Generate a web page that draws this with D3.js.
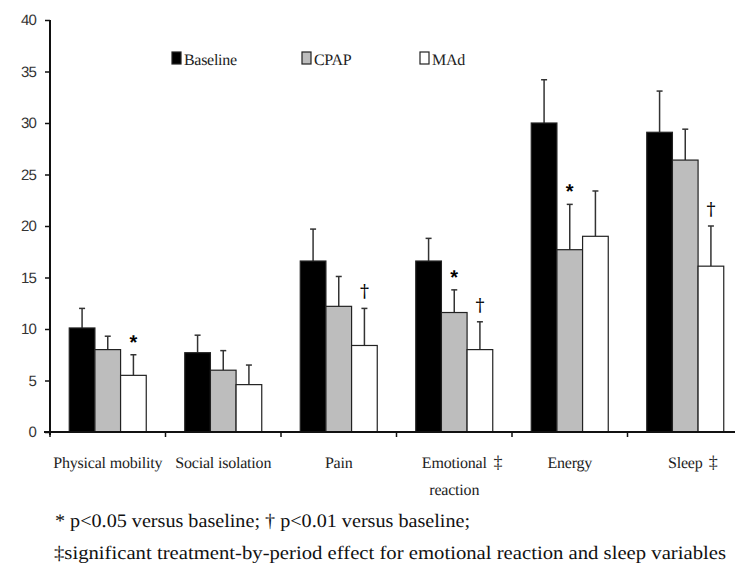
<!DOCTYPE html>
<html><head><meta charset="utf-8">
<script src="https://cdn.jsdelivr.net/npm/d3@7"></script>
<style>body{margin:0;background:#fff}svg{display:block}</style>
</head><body>
<script>
const categories = ["Physical mobility", "Social isolation", "Pain", "Emotional", "Energy", "Sleep"];
const categorySecondLine = ["", "", "", "reaction", "", ""];
const categoryMark = ["", "", "", "‡", "", "‡"];
const seriesNames = ["Baseline", "CPAP", "MAd"];
const baseline = [10.1, 7.7, 16.6, 16.6, 30.0, 29.1];
const baselineSD = [1.9, 1.7, 3.1, 2.2, 4.2, 4.0];
const cpap = [8.0, 6.0, 12.2, 11.6, 17.7, 26.4];
const cpapSD = [1.3, 1.9, 2.9, 2.2, 4.4, 3.0];
const mad = [5.5, 4.6, 8.4, 8.0, 19.0, 16.1];
const madSD = [2.0, 1.9, 3.6, 2.7, 4.4, 3.9];
const cpapSig = ["", "", "", "*", "*", ""];
const madSig = ["*", "", "†", "†", "", "†"];
const yTicks = [0, 5, 10, 15, 20, 25, 30, 35, 40];
const footnote1 = "* p<0.05 versus baseline; † p<0.01 versus baseline;";
const footnote2 = "‡significant treatment-by-period effect for emotional reaction and sleep variables";

const W = 735, H = 581;
const colors = ["#000000", "#bdbdbd", "#ffffff"];
const values = [baseline, cpap, mad];
const sds = [baselineSD, cpapSD, madSD];
const sigs = [["", "", "", "", "", ""], cpapSig, madSig];

const svg = d3.select("body").append("svg").attr("width", W).attr("height", H)
  .attr("text-rendering", "geometricPrecision");

const x = d3.scaleBand().domain(categories).range([50, 743]).paddingInner(0).paddingOuter(0);
const xs = d3.scaleBand().domain(seriesNames).range([0, x.bandwidth()]).paddingInner(0).paddingOuter(0.75);
const y = d3.scaleLinear().domain([0, 40]).range([432, 20]);

const serif = "'Liberation Serif','Times New Roman',serif";
const sans = "'Liberation Sans',Arial,sans-serif";

const rows = [];
categories.forEach((c, i) => seriesNames.forEach((s, j) => rows.push({c, s, j, v: values[j][i], sd: sds[j][i], sig: sigs[j][i]})));

const g = svg.append("g");
g.selectAll("line.err").data(rows).join("line")
  .attr("x1", d => x(d.c) + xs(d.s) + xs.bandwidth() / 2)
  .attr("x2", d => x(d.c) + xs(d.s) + xs.bandwidth() / 2)
  .attr("y1", d => y(d.v)).attr("y2", d => y(d.v + d.sd))
  .attr("stroke", "#333").attr("stroke-width", 1.5);
g.selectAll("line.cap").data(rows).join("line")
  .attr("x1", d => x(d.c) + xs(d.s) + xs.bandwidth() / 2 - 3)
  .attr("x2", d => x(d.c) + xs(d.s) + xs.bandwidth() / 2 + 3)
  .attr("y1", d => y(d.v + d.sd)).attr("y2", d => y(d.v + d.sd))
  .attr("stroke", "#333").attr("stroke-width", 1.5);
g.selectAll("rect.bar").data(rows).join("rect")
  .attr("x", d => x(d.c) + xs(d.s))
  .attr("y", d => y(d.v))
  .attr("width", xs.bandwidth())
  .attr("height", d => y(0) - y(d.v))
  .attr("fill", d => colors[d.j])
  .attr("stroke", "#222").attr("stroke-width", 1.2);

g.selectAll("text.sig").data(rows.filter(d => d.sig)).join("text")
  .attr("x", d => x(d.c) + xs(d.s) + xs.bandwidth() / 2)
  .attr("y", d => y(d.v + d.sd) - (d.sig === "*" ? 6 : 11))
  .attr("text-anchor", "middle")
  .attr("font-family", d => d.sig === "*" ? sans : "'DejaVu Serif',serif")
  .attr("font-weight", d => d.sig === "*" ? "bold" : "normal")
  .attr("font-size", d => d.sig === "*" ? 20 : 18)
  .attr("fill", "#000")
  .text(d => d.sig);

const yAxis = svg.append("g").attr("transform", "translate(50,0)")
  .call(d3.axisLeft(y).tickValues(yTicks).tickSize(5).tickPadding(9));
yAxis.select(".domain").attr("stroke", "#111").attr("stroke-width", 2).attr("d", "M0,20V435");
yAxis.selectAll(".tick line").attr("stroke", "#111").attr("stroke-width", 1.5);
yAxis.selectAll(".tick text").attr("font-family", sans).attr("font-size", 15).attr("fill", "#333")
  .attr("letter-spacing", "-0.8px");

const xAxisG = svg.append("g").attr("transform", "translate(0,432)");
xAxisG.append("line").attr("x1", 44).attr("x2", 743).attr("y1", 0).attr("y2", 0)
  .attr("stroke", "#111").attr("stroke-width", 2);
const boundaries = categories.map(c => x(c)).concat([x.range()[1]]);
xAxisG.selectAll("line.bt").data(boundaries).join("line")
  .attr("x1", d => d).attr("x2", d => d).attr("y1", 0).attr("y2", 5)
  .attr("stroke", "#111").attr("stroke-width", 1.5);

categories.forEach((c, i) => {
  const cx = x(c) + x.bandwidth() / 2;
  const t = svg.append("text").attr("x", cx).attr("y", 468).attr("text-anchor", "middle")
    .attr("font-family", serif).attr("font-size", 16).attr("fill", "#222").attr("letter-spacing", "-0.2px")
    .text(c);
  if (categoryMark[i]) {
    const bb = t.node().getBBox();
    svg.append("text").attr("x", bb.x + bb.width + 6).attr("y", 468)
      .attr("font-family", serif).attr("font-size", 18).attr("fill", "#222").text(categoryMark[i]);
  }
  if (categorySecondLine[i]) {
    svg.append("text").attr("x", cx).attr("y", 495).attr("text-anchor", "middle")
      .attr("font-family", serif).attr("font-size", 16).attr("fill", "#222").attr("letter-spacing", "-0.2px")
      .text(categorySecondLine[i]);
  }
});

const legendX = [172, 302, 420];
const leg = svg.append("g");
seriesNames.forEach((s, j) => {
  leg.append("rect").attr("x", legendX[j]).attr("y", 52).attr("width", 9).attr("height", 12)
    .attr("fill", colors[j]).attr("stroke", "#222").attr("stroke-width", 1.2);
  leg.append("text").attr("x", legendX[j] + 12).attr("y", 64.5)
    .attr("font-family", serif).attr("font-size", 16).attr("fill", "#222").attr("letter-spacing", "-0.3px")
    .text(s);
});

svg.append("text").attr("x", 55).attr("y", 527).attr("font-family", serif).attr("font-size", 19)
  .attr("fill", "#111").attr("textLength", 415).attr("lengthAdjust", "spacingAndGlyphs").text(footnote1);
svg.append("text").attr("x", 54).attr("y", 559).attr("font-family", serif).attr("font-size", 19)
  .attr("fill", "#111").attr("textLength", 672).attr("lengthAdjust", "spacingAndGlyphs").text(footnote2);
</script>
</body></html>
